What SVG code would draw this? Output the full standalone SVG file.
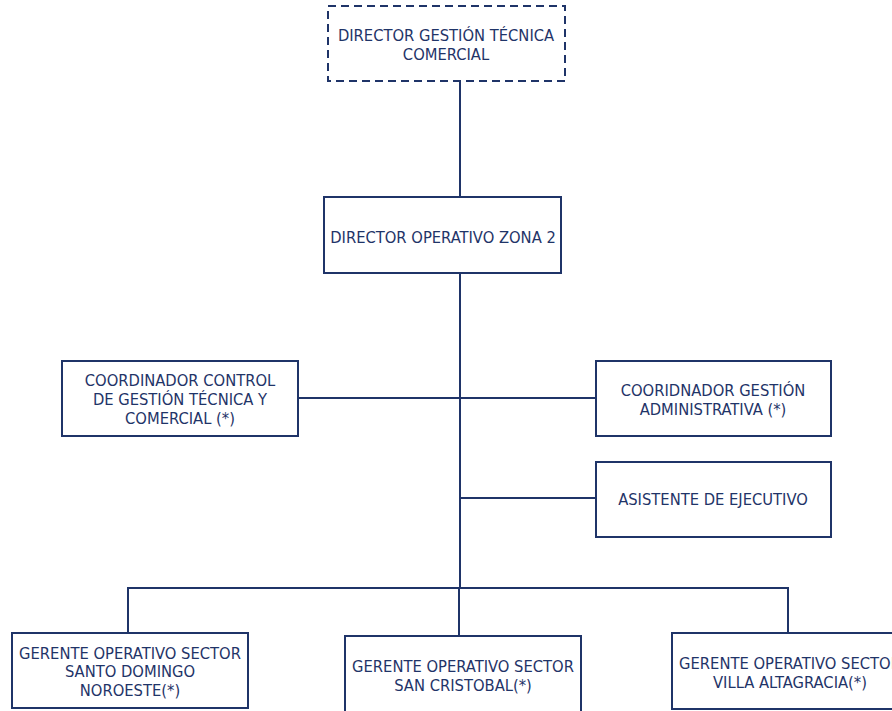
<svg xmlns="http://www.w3.org/2000/svg" width="892" height="711" viewBox="0 0 892 711">
<style>
.box{fill:#ffffff;stroke:#1f3468;stroke-width:2}
.dash{stroke-dasharray:8,5}
.t{font-family:"DejaVu Sans Condensed","Liberation Sans",sans-serif;font-size:16.4px;fill:#1f3468;text-anchor:middle}
.c{stroke:#1f3468;stroke-width:2;fill:none}
</style>
<rect width="892" height="711" fill="#ffffff"/>
<g id="connectors">
<line class="c" x1="460" y1="81" x2="460" y2="197"/>
<line class="c" x1="460" y1="273" x2="460" y2="588"/>
<line class="c" x1="298" y1="398" x2="596" y2="398"/>
<line class="c" x1="460" y1="498" x2="596" y2="498"/>
<polyline class="c" points="128,633 128,588 788,588 788,633"/>
<line class="c" x1="459" y1="588" x2="459" y2="636"/>
</g>
<g id="director-gestion">
<rect class="box dash" x="328" y="6" width="237" height="75"/>
<text class="t" x="446" y="41">DIRECTOR GESTIÓN TÉCNICA</text>
<text class="t" x="446" y="60">COMERCIAL</text>
</g>
<g id="director-operativo">
<rect class="box" x="324" y="197" width="237" height="76"/>
<text class="t" x="443" y="243">DIRECTOR OPERATIVO ZONA 2</text>
</g>
<g id="coordinador-control">
<rect class="box" x="62" y="361" width="236" height="75"/>
<text class="t" x="180" y="386">COORDINADOR CONTROL</text>
<text class="t" x="180" y="405">DE GESTIÓN TÉCNICA Y</text>
<text class="t" x="180" y="424">COMERCIAL (*)</text>
</g>
<g id="coordinador-admin">
<rect class="box" x="596" y="361" width="235" height="75"/>
<text class="t" x="713" y="396">COORIDNADOR GESTIÓN</text>
<text class="t" x="713" y="415">ADMINISTRATIVA (*)</text>
</g>
<g id="asistente">
<rect class="box" x="596" y="462" width="235" height="75"/>
<text class="t" x="713" y="505">ASISTENTE DE EJECUTIVO</text>
</g>
<g id="gerente-sdn">
<rect class="box" x="12" y="633" width="236" height="75"/>
<text class="t" x="130" y="659">GERENTE OPERATIVO SECTOR</text>
<text class="t" x="130" y="677">SANTO DOMINGO</text>
<text class="t" x="130" y="696">NOROESTE(*)</text>
</g>
<g id="gerente-sc">
<rect class="box" x="345" y="636" width="236" height="78"/>
<text class="t" x="463" y="672">GERENTE OPERATIVO SECTOR</text>
<text class="t" x="463" y="691">SAN CRISTOBAL(*)</text>
</g>
<g id="gerente-va">
<rect class="box" x="672" y="633" width="236" height="76"/>
<text class="t" x="790" y="669">GERENTE OPERATIVO SECTOR</text>
<text class="t" x="790" y="688">VILLA ALTAGRACIA(*)</text>
</g>
</svg>
